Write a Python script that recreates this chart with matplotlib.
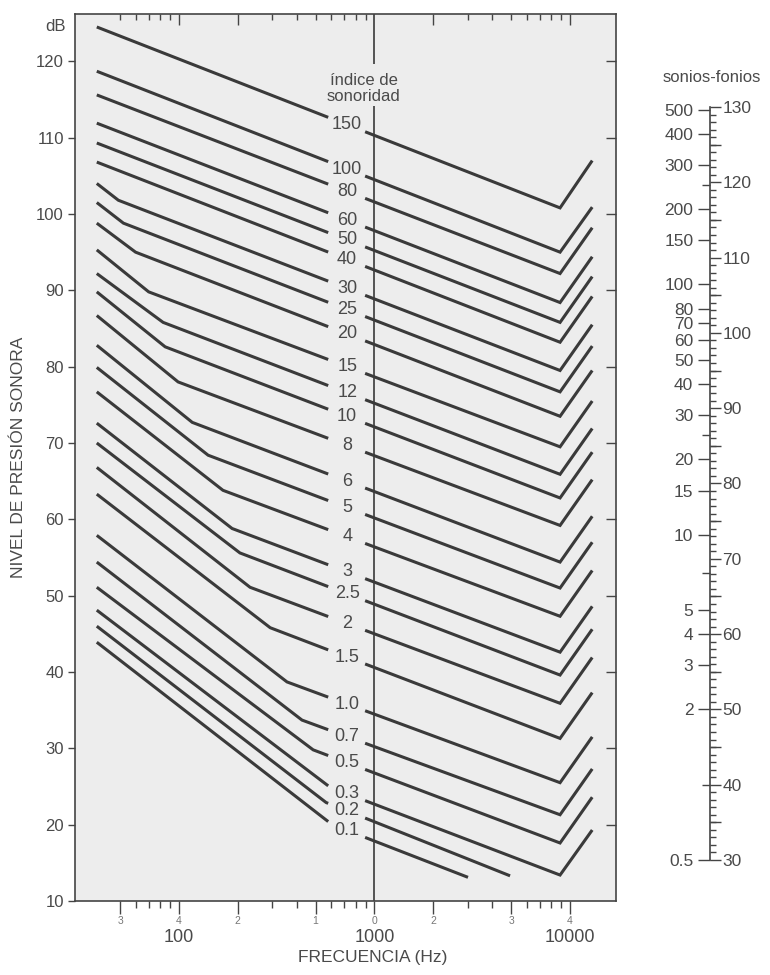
import numpy as np
import matplotlib
matplotlib.use("Agg")
import matplotlib.pyplot as plt
from matplotlib.ticker import FixedLocator, NullFormatter

plt.rcParams['font.family'] = ['Liberation Sans', 'DejaVu Sans']

INK = "#3a3a3a"
TXT = "#4a4a4a"

# loudness index contours (índice de sonoridad)
labels = ["150", "100", "80", "60", "50", "40", "30", "25", "20", "15", "12", "10", "8",
          "6", "5", "4", "3", "2.5", "2", "1.5", "1.0", "0.7", "0.5", "0.3", "0.2", "0.1"]
start_hz = 38.0
start_db = [124.5, 118.7, 115.6, 111.9, 109.3, 106.8, 104.0, 101.5, 98.8, 95.3, 92.2, 89.8, 86.7,
            82.8, 79.9, 76.7, 72.6, 70.0, 66.8, 63.3, 57.9, 54.4, 51.1, 48.1, 46.0, 43.9]
# knee of the low-frequency part (0 = straight line)
knee_hz = [0, 0, 0, 0, 0, 0, 49, 52, 60, 70, 83, 85, 99,
           117, 141, 168, 187, 205, 231, 293, 357, 426, 486, 593, 566, 608]
knee_db = [0, 0, 0, 0, 0, 0, 101.8, 98.8, 95.0, 89.8, 85.8, 82.6, 78.0,
           72.7, 68.4, 63.8, 58.8, 55.6, 51.1, 45.8, 38.7, 33.7, 29.8, 24.9, 22.9, 20.0]
# lowest point (bottom of the V) and end
end_hz = [8900] * 24 + [4940, 3010]
end_db = [100.8, 95.0, 92.2, 88.4, 85.8, 83.2, 79.5, 76.7, 73.5, 69.5, 65.9, 62.8, 59.2,
          54.4, 51.0, 47.3, 42.6, 39.6, 35.9, 31.3, 25.5, 21.3, 17.6, 13.4, 13.3, 13.1]
top_hz = 13000
top_db = [107.0, 100.9, 98.2, 94.4, 91.8, 89.2, 85.5, 82.7, 79.5, 75.5, 71.9, 68.8, 65.2,
          60.4, 57.0, 53.3, 48.6, 45.6, 41.9, 37.3, 31.5, 27.3, 23.6, 19.3, None, None]

# gap left for the labels
gap_lo, gap_hi, label_hz = 580, 896, 725

# sones / phons scale
sones_lab = [500, 400, 300, 200, 150, 100, 80, 70, 60, 50, 40, 30, 20, 15, 10, 5, 4, 3, 2, 0.5]
sones_lab_txt = ["500", "400", "300", "200", "150", "100", "80", "70", "60", "50", "40", "30",
                 "20", "15", "10", "5", "4", "3", "2", "0.5"]
sones_extra = [250, 25, 7, 1]
phons = list(range(30, 131, 10))

fig = plt.figure(figsize=(7.7, 9.75), dpi=100)
ax = fig.add_axes([75 / 770, 74 / 975, 541 / 770, 887 / 975])
ax.set_facecolor("#ededed")
ax.set_xscale("log")
ax.set_xlim(29.4, 17200)
ax.set_ylim(10, 126.2)

for i in range(len(labels)):
    xs = [start_hz]
    ys = [start_db[i]]
    if knee_hz[i]:
        xs.append(knee_hz[i])
        ys.append(knee_db[i])
    xs.append(end_hz[i])
    ys.append(end_db[i])
    if top_db[i] is not None:
        xs.append(top_hz)
        ys.append(top_db[i])
    lx = np.log10(xs)
    ys = np.array(ys)
    y_lo = np.interp(np.log10(gap_lo), lx, ys)
    y_hi = np.interp(np.log10(gap_hi), lx, ys)
    left = lx < np.log10(gap_lo)
    right = lx > np.log10(gap_hi)
    ax.plot(list(10 ** lx[left]) + [gap_lo], list(ys[left]) + [y_lo],
            color=INK, lw=2.2, solid_capstyle="butt", solid_joinstyle="miter")
    ax.plot([gap_hi] + list(10 ** lx[right]), [y_hi] + list(ys[right]),
            color=INK, lw=2.2, solid_capstyle="butt", solid_joinstyle="miter")
    y_lab = np.interp(np.log10(label_hz), lx, ys)
    ax.text(label_hz, y_lab, labels[i], ha="center", va="center", fontsize=13, color=TXT)

# 1000 Hz reference line, interrupted by the title
ax.vlines(1000, 10, 114.1, color=INK, lw=1.2)
ax.vlines(1000, 119.7, 126.2, color=INK, lw=1.2)
ax.text(880, 116.4, "índice de\nsonoridad", ha="center", va="center", fontsize=12,
        color=TXT, linespacing=1.1)

for s in ax.spines.values():
    s.set_color("#444444")
    s.set_linewidth(1.2)

ax.set_yticks(range(10, 121, 10))
ax.tick_params(axis="y", direction="out", length=5, width=1, color="#444444",
               labelsize=12, labelcolor=TXT, pad=3)
ax.text(-0.018, 124.5, "dB", transform=ax.get_yaxis_transform(), ha="right", va="center",
        fontsize=12, color=TXT)

xmaj = [50, 100, 200, 500, 1000, 2000, 5000, 10000]
xmin = [60, 70, 80, 90, 300, 400, 600, 700, 800, 900, 3000, 4000, 6000, 7000, 8000, 9000]
ax.xaxis.set_major_locator(FixedLocator(xmaj))
ax.xaxis.set_minor_locator(FixedLocator(xmin))
ax.set_xticklabels(["3", "4", "2", "1", "0", "2", "3", "4"])
ax.xaxis.set_minor_formatter(NullFormatter())
ax.tick_params(axis="x", which="major", direction="out", length=9, width=1,
               color="#444444", labelsize=7.5, labelcolor="#777777", pad=2)
ax.tick_params(axis="x", which="minor", direction="out", length=5, width=1, color="#444444")
for f, t in zip([100, 1000, 10000], ["100", "1000", "10000"]):
    ax.text(f, -0.041, t, transform=ax.get_xaxis_transform(), ha="center", va="center",
            fontsize=13, color=TXT)
ax.text(0.55, -0.064, "FRECUENCIA (Hz)", transform=ax.transAxes, ha="center", va="center",
        fontsize=12.5, color=TXT)
ax.text(-0.105, 0.5, "NIVEL DE PRESIÓN SONORA", transform=ax.transAxes, rotation=90,
        ha="center", va="center", fontsize=12.5, color=TXT)

# inner ticks on the top and right sides
top = ax.secondary_xaxis("top")
top.xaxis.set_major_locator(FixedLocator([100, 200, 2000, 10000]))
top.xaxis.set_minor_locator(FixedLocator([50, 60, 70, 80, 90, 300, 400, 500, 600, 700, 800, 900,
                                          3000, 4000, 5000, 6000, 7000, 8000, 9000]))
top.xaxis.set_major_formatter(NullFormatter())
top.xaxis.set_minor_formatter(NullFormatter())
top.tick_params(which="major", direction="in", length=8, width=1, color="#444444")
top.tick_params(which="minor", direction="in", length=4, width=1, color="#444444")
top.spines["top"].set_visible(False)

rgt = ax.secondary_yaxis("right")
rgt.yaxis.set_major_locator(FixedLocator(list(range(20, 121, 10))))
rgt.yaxis.set_major_formatter(NullFormatter())
rgt.tick_params(direction="in", length=7, width=1, color="#444444")
rgt.spines["right"].set_visible(False)

# sones - phons nomogram
def phon(s):
    return 40 + 10 * np.log2(s)

ax2 = fig.add_axes([710 / 770, 115 / 975, 0.0001, 753 / 975])
ax2.set_ylim(30, 130)
ax2.patch.set_visible(False)
for k in ["top", "bottom", "right"]:
    ax2.spines[k].set_visible(False)
ax2.spines["left"].set_color("#444444")
ax2.spines["left"].set_linewidth(1.2)
ax2.set_xticks([])
ax2.set_yticks([phon(s) for s in sones_lab])
ax2.set_yticklabels(sones_lab_txt)
ax2.set_yticks([phon(s) for s in sones_extra], minor=True)
ax2.tick_params(axis="y", which="major", direction="out", length=9, width=1, color="#444444",
                labelsize=12.5, labelcolor=TXT, pad=3)
ax2.tick_params(axis="y", which="minor", direction="out", length=6, width=1, color="#444444")

ax3 = ax2.twinx()
ax3.set_ylim(30, 130)
for k in ["top", "bottom", "left", "right"]:
    ax3.spines[k].set_visible(False)
ax3.set_yticks(phons)
ax3.set_yticklabels([str(p) for p in phons])
ax3.set_yticks(list(range(30, 131)), minor=True)
ax3.tick_params(axis="y", which="major", direction="out", length=8, width=1, color="#444444",
                labelsize=12.5, labelcolor=TXT, pad=1)
ax3.tick_params(axis="y", which="minor", direction="out", length=4, width=1, color="#444444")

ax4 = ax2.twinx()
ax4.set_ylim(30, 130)
for k in ax4.spines:
    ax4.spines[k].set_visible(False)
ax4.set_yticks(list(range(35, 130, 10)))
ax4.yaxis.set_major_formatter(NullFormatter())
ax4.tick_params(axis="y", direction="out", length=8, width=1, color="#444444")

fig.text(712 / 770, 1 - 78 / 975, "sonios-fonios", ha="center", va="center",
         fontsize=12, color=TXT)

fig.savefig("out.png", dpi=100, facecolor="white")
